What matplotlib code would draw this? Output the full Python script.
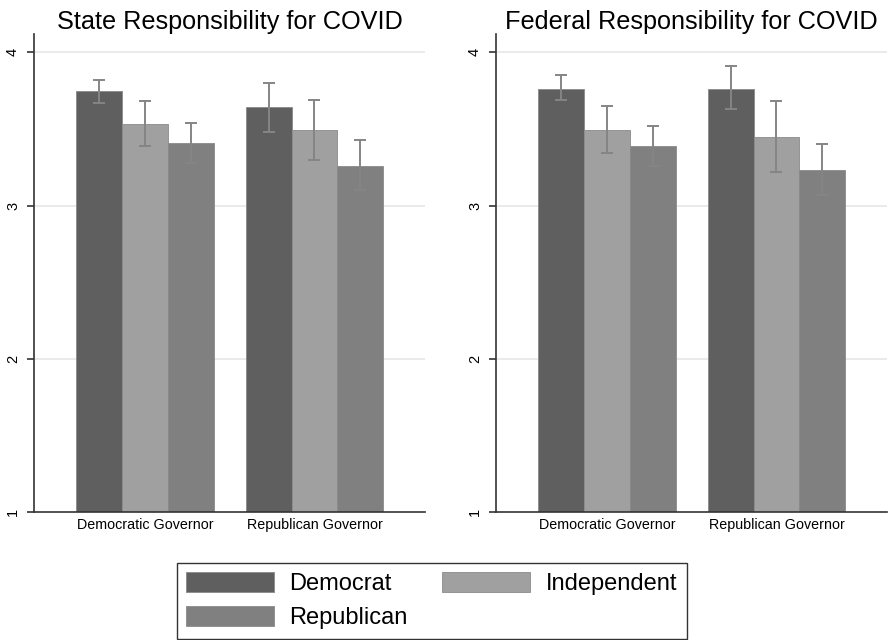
import matplotlib.pyplot as plt
import numpy as np
from matplotlib.patches import Patch

plt.rcParams['font.family'] = ['Liberation Sans', 'DejaVu Sans']

groups = ['Democratic Governor', 'Republican Governor']
parties = ['Democrat', 'Independent', 'Republican']
party_colors = ['#5f5f5f', '#a0a0a0', '#808080']

# mean rating by party, one row per governor group
state_mean = [[3.75, 3.53, 3.41],
              [3.64, 3.49, 3.26]]
state_lo = [[3.67, 3.39, 3.28],
            [3.48, 3.30, 3.10]]
state_hi = [[3.82, 3.68, 3.54],
            [3.80, 3.69, 3.43]]

fed_mean = [[3.76, 3.49, 3.39],
            [3.76, 3.45, 3.23]]
fed_lo = [[3.69, 3.34, 3.26],
          [3.63, 3.22, 3.07]]
fed_hi = [[3.85, 3.65, 3.52],
          [3.91, 3.68, 3.40]]

panels = [('State Responsibility for COVID', state_mean, state_lo, state_hi),
          ('Federal Responsibility for COVID', fed_mean, fed_lo, fed_hi)]

fig = plt.figure(figsize=(8.9, 6.4), dpi=100)
axes = [fig.add_axes([0.0382, 0.2, 0.4393, 0.747]),
        fig.add_axes([0.5573, 0.2, 0.4393, 0.747])]

width = 0.271
x = np.arange(len(groups))

for ax, (title, mean, lo, hi) in zip(axes, panels):
    mean = np.array(mean)
    lo = np.array(lo)
    hi = np.array(hi)
    for j in range(len(parties)):
        xpos = x + (j - 1) * width
        ax.bar(xpos, mean[:, j] - 1, bottom=1, width=width, color=party_colors[j],
               edgecolor='#8a8a8a', linewidth=0.6, zorder=2)
        ax.errorbar(xpos, mean[:, j], yerr=[mean[:, j] - lo[:, j], hi[:, j] - mean[:, j]],
                    fmt='none', ecolor='#858585', elinewidth=1.4, capsize=4.5,
                    capthick=1.4, zorder=3)

    ax.set_xlim(-0.655, 1.652)
    ax.set_ylim(1, 4.12)
    ax.set_yticks([1, 2, 3, 4])
    ax.set_yticklabels(['1', '2', '3', '4'], rotation=90, va='center', fontsize=10.5)
    ax.set_xticks(x)
    ax.set_xticklabels(groups, fontsize=10.3)
    ax.tick_params(axis='x', length=0, pad=4)
    ax.tick_params(axis='y', length=5, width=1.2, color='#333333', pad=5)
    for yv in [2, 3, 4]:
        ax.axhline(yv, color='#e6e6e6', linewidth=1.2, zorder=0)
    ax.spines['top'].set_visible(False)
    ax.spines['right'].set_visible(False)
    ax.spines['left'].set_color('#333333')
    ax.spines['bottom'].set_color('#333333')
    ax.spines['left'].set_linewidth(1.2)
    ax.spines['bottom'].set_linewidth(1.2)
    ax.set_title(title, fontsize=18.2, pad=0.5)

handles = [Patch(facecolor=party_colors[0], edgecolor='#8a8a8a', linewidth=0.6),
           Patch(facecolor=party_colors[2], edgecolor='#8a8a8a', linewidth=0.6),
           Patch(facecolor=party_colors[1], edgecolor='#8a8a8a', linewidth=0.6)]
labels = [parties[0], parties[2], parties[1]]
leg = fig.legend(handles, labels, loc='lower center', bbox_to_anchor=(0.485, 0.002),
                 ncol=2, fontsize=17, frameon=True, fancybox=False, edgecolor='black',
                 handlelength=3.7, handleheight=0.93, handletextpad=0.68,
                 columnspacing=1.45, labelspacing=0.45, borderpad=0.4, borderaxespad=0)
leg.get_frame().set_linewidth(1.0)

fig.savefig('out.png', dpi=100)
